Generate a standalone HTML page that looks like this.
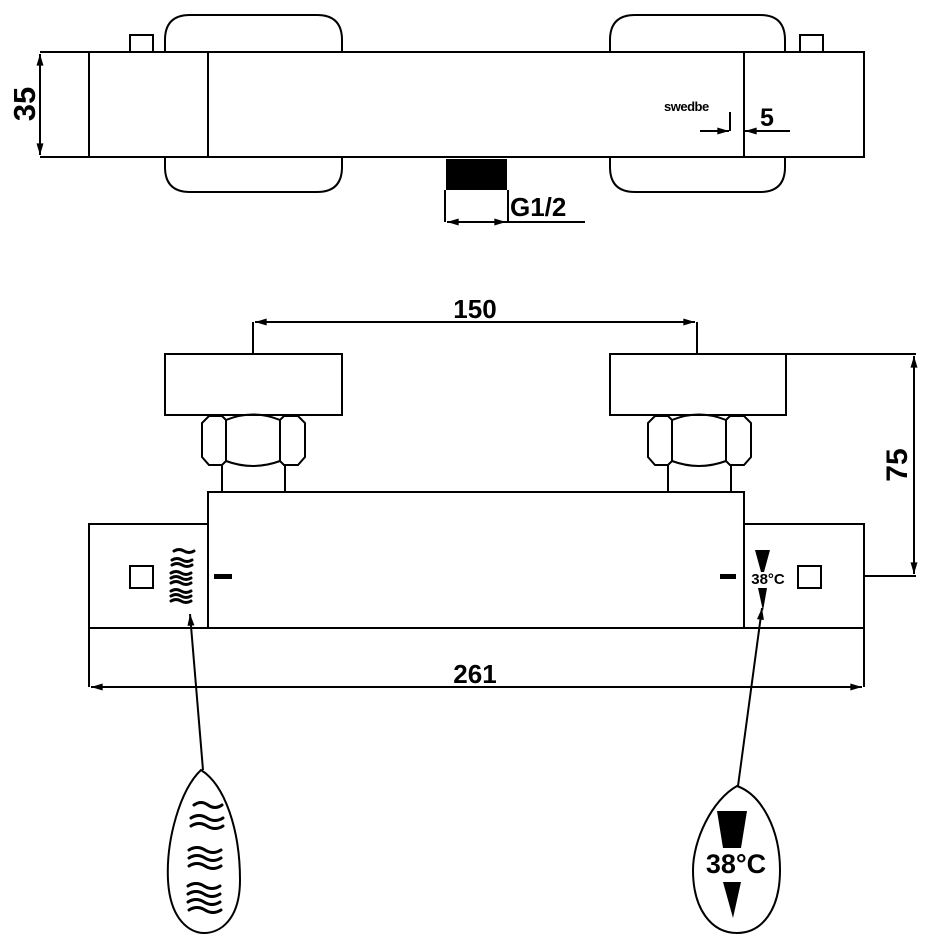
<!DOCTYPE html>
<html><head><meta charset="utf-8"><style>
body{margin:0;background:#fff}
svg{display:block}
text{font-family:"Liberation Sans",Arial,sans-serif;font-weight:bold;fill:#000}
</style></head><body>
<svg width="932" height="948" viewBox="0 0 932 948" xmlns="http://www.w3.org/2000/svg">
<defs>
<marker id="a" viewBox="0 0 10 6" refX="10" refY="3" markerWidth="14" markerHeight="7" orient="auto-start-reverse" markerUnits="userSpaceOnUse"><path d="M0,0 L10,3 L0,6 Z" fill="#000"/></marker>
</defs>
<g fill="none" stroke="#000" stroke-width="2">
<!-- TOP VIEW -->
<path d="M165,52 V40 Q165,15 190,15 H317 Q342,15 342,40 V52"/>
<path d="M610,52 V40 Q610,15 635,15 H760 Q785,15 785,40 V52"/>
<path d="M165,157 V167 Q165,192 190,192 H317 Q342,192 342,167 V157"/>
<path d="M610,157 V167 Q610,192 635,192 H760 Q785,192 785,167 V157"/>
<rect x="130" y="35" width="23" height="17"/>
<rect x="800" y="35" width="23" height="17"/>
<path d="M40,52 H864 V157 H40"/>
<path d="M89,52 V157 M208,52 V157 M744,52 V157"/>
<line x1="40" y1="54" x2="40" y2="155" marker-start="url(#a)" marker-end="url(#a)"/>
<path d="M445,190 V222 M508,190 V222"/>
<line x1="447" y1="222" x2="506" y2="222" marker-start="url(#a)" marker-end="url(#a)"/>
<path d="M506,222 H585"/>
<path d="M730,112 V131"/>
<line x1="700" y1="131" x2="729" y2="131" marker-end="url(#a)"/>
<line x1="790" y1="131" x2="745" y2="131" marker-end="url(#a)"/>
<!-- FRONT VIEW -->
<rect x="165" y="354" width="177" height="61"/>
<rect x="610" y="354" width="176" height="61"/>
<path d="M253,354 V322 M697,354 V322"/>
<line x1="255" y1="322" x2="695" y2="322" marker-start="url(#a)" marker-end="url(#a)"/>
<path d="M786,354 H916 M864,576 H916"/>
<line x1="914" y1="356" x2="914" y2="574" marker-start="url(#a)" marker-end="url(#a)"/>
<g id="nut">
<path d="M209,416 H222 L226,420 Q253,409 280,420 L284,416 H298 L305,423 V457 L298,465 H284 L280,461 Q253,471 226,461 L222,465 H209 L202,457 V423 Z"/>
<path d="M226,420 V461 M280,420 V461"/>
<path d="M222,465 V492 M285,465 V492"/>
</g>
<use href="#nut" transform="translate(446,0)"/>
<rect x="208" y="492" width="536" height="136"/>
<path d="M208,524 H89 V687 M744,524 H864 V687 M89,628 H864"/>
<line x1="91" y1="687" x2="862" y2="687" marker-start="url(#a)" marker-end="url(#a)"/>
<rect x="130" y="566" width="23" height="22"/>
<rect x="798" y="566" width="23" height="22"/>
<line x1="203" y1="770" x2="190" y2="614" marker-end="url(#a)"/>
<line x1="738" y1="786" x2="762" y2="608" marker-end="url(#a)"/>
<path d="M201,770 C180,790 166,840 168,880 C170,920 190,933 204,933 C220,933 240,920 240,880 C240,830 225,785 201,770 Z"/>
<path d="M737,786 C712,800 693,840 693,870 C693,910 712,933 737,933 C762,933 780,910 780,870 C780,830 762,795 737,786 Z"/>
</g>
<g stroke="#000" stroke-width="3" fill="none" stroke-linecap="round">
<path d="M174,551 q5,-3 10,0 t10,0 M172,560 q5,-3 10,0 t10,0 M172,565 q5,-3 10,0 t10,0 M171,573 q5,-3 10,0 t10,0 M171,578 q5,-3 10,0 t10,0 M171,583 q5,-3 10,0 t10,0 M171,591 q5,-3 10,0 t10,0 M171,596 q5,-3 10,0 t10,0 M171,601 q5,-3 10,0 t10,0"/>
<path d="M194,805 q7,-5 14,0 t14,0 M191,818 q8,-5 16,0 t16,0 M191,826 q8,-5 16,0 t16,0 M189,850 q8,-5 16,0 t16,0 M189,858 q8,-5 16,0 t16,0 M189,866 q8,-5 16,0 t16,0 M188,886 q8,-5 16,0 t16,0 M188,894 q8,-5 16,0 t16,0 M188,902 q8,-5 16,0 t16,0 M189,910 q8,-5 16,0 t16,0"/>
</g>
<rect x="446" y="159" width="61" height="31" fill="#000"/>
<rect x="214" y="574" width="18" height="5" fill="#000"/>
<rect x="720" y="574" width="16" height="5" fill="#000"/>
<path d="M755,550 H770 L764,572 H761 Z" fill="#000"/>
<path d="M758,588 H767 L763,611 Z" fill="#000"/>
<path d="M717,811 H747 L741,848 H723 Z" fill="#000"/>
<path d="M723,882 H741 L733,918 Z" fill="#000"/>
<text x="0" y="0" font-size="31" transform="translate(40,104) rotate(-90)" text-anchor="middle" dy="-5" font-weight="normal">35</text>
<text x="664" y="111" font-size="13" style="letter-spacing:-0.5px">swedbe</text>
<text x="760" y="126" font-size="25" font-weight="normal">5</text>
<text x="510" y="216" font-size="26">G1/2</text>
<text x="475" y="318" font-size="26" text-anchor="middle">150</text>
<text x="475" y="683" font-size="26" text-anchor="middle">261</text>
<text x="0" y="0" font-size="30" transform="translate(912,465) rotate(-90)" text-anchor="middle" dy="-5" font-weight="normal">75</text>
<text x="768" y="584" font-size="15" text-anchor="middle" font-weight="normal">38°C</text>
<text x="736" y="873" font-size="27" text-anchor="middle">38°C</text>
</svg>
</body></html>
